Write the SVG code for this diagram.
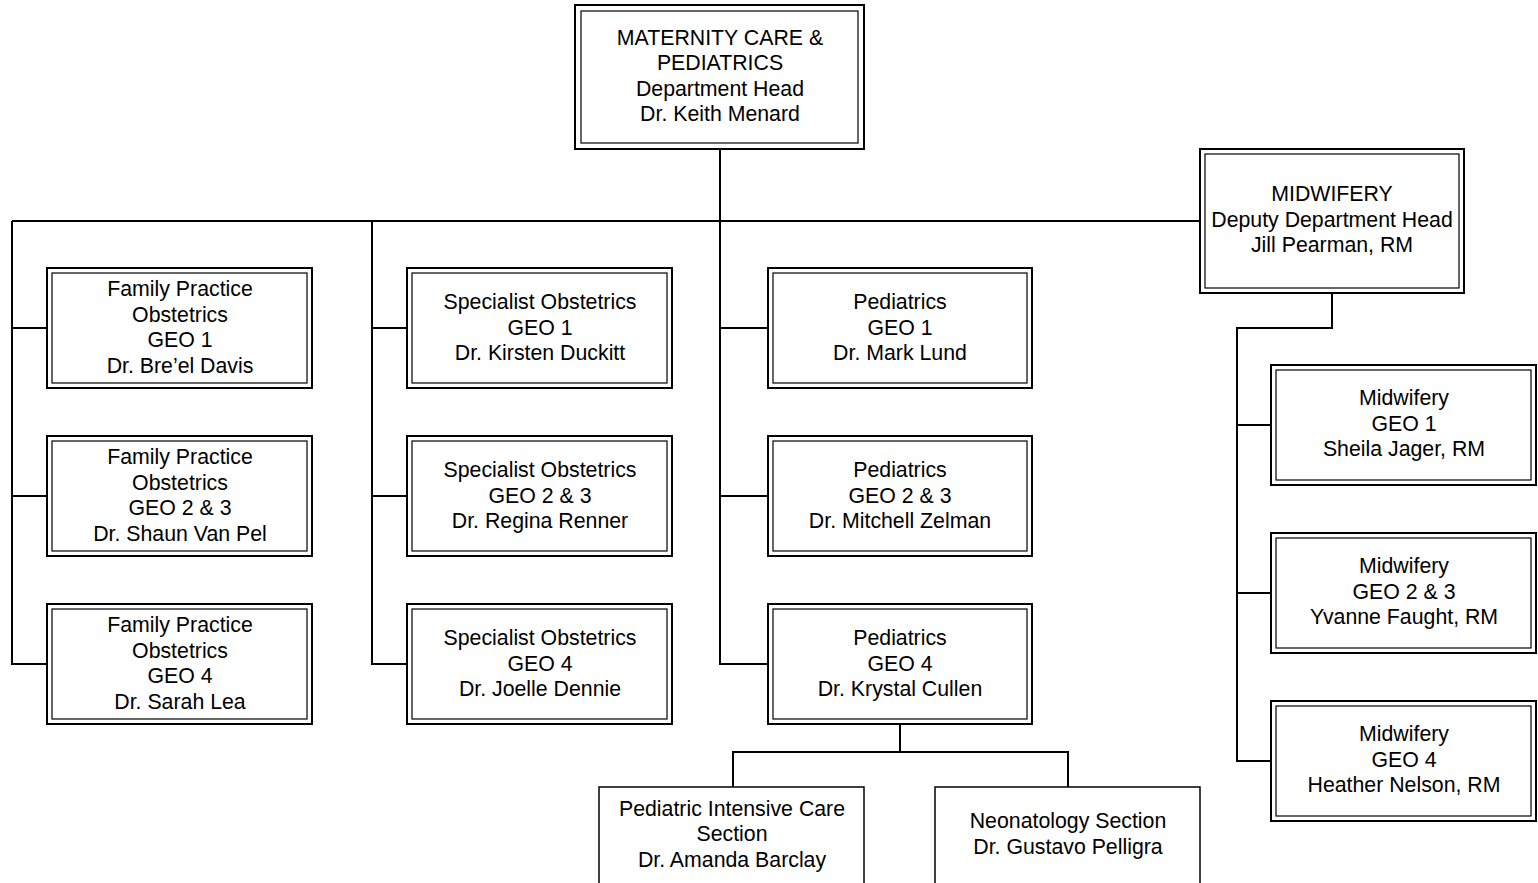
<svg xmlns="http://www.w3.org/2000/svg" width="1538" height="883" viewBox="0 0 1538 883">
<style>
.o{fill:#fff;stroke:#000;stroke-width:2}
.i{fill:none;stroke:#000;stroke-width:1.2}
.s{fill:#fff;stroke:#000;stroke-width:1.5}
.c{fill:none;stroke:#000;stroke-width:2}
text{font-family:"Liberation Sans",Arial,sans-serif;font-size:21.3px;fill:#000;text-anchor:middle}
</style>
<g id="connectors">
<path class="c" d="M720 149V665M12 221H1200M12 221V665M12 328H47M12 496H47M12 664H47M372 221V665M372 328H407M372 496H407M372 664H407M720 328H768M720 496H768M720 664H768"/>
<path class="c" d="M1332 293V328H1237V762M1237 425H1271M1237 593H1271M1237 761H1271"/>
<path class="c" d="M900 724V752H733V787M900 752H1068V787"/>
</g>
<g id="head">
<rect class="o" x="575" y="5" width="289" height="144"/><rect class="i" x="581" y="11" width="277" height="132"/>
<text x="720" y="45">MATERNITY CARE &amp;</text><text x="720" y="70">PEDIATRICS</text><text x="720" y="96">Department Head</text><text x="720" y="121">Dr. Keith Menard</text>
</g>
<g id="midwifery-head">
<rect class="o" x="1200" y="149" width="264" height="144"/><rect class="i" x="1205" y="154" width="254" height="134"/>
<text x="1332" y="201">MIDWIFERY</text><text x="1332" y="227">Deputy Department Head</text><text x="1332" y="252">Jill Pearman, RM</text>
</g>
<g id="fp1">
<rect class="o" x="47" y="268" width="265" height="120"/><rect class="i" x="52" y="273" width="255" height="110"/>
<text x="180" y="296">Family Practice</text><text x="180" y="322">Obstetrics</text><text x="180" y="347">GEO 1</text><text x="180" y="373">Dr. Bre’el Davis</text>
</g>
<g id="fp2">
<rect class="o" x="47" y="436" width="265" height="120"/><rect class="i" x="52" y="441" width="255" height="110"/>
<text x="180" y="464">Family Practice</text><text x="180" y="490">Obstetrics</text><text x="180" y="515">GEO 2 &amp; 3</text><text x="180" y="541">Dr. Shaun Van Pel</text>
</g>
<g id="fp3">
<rect class="o" x="47" y="604" width="265" height="120"/><rect class="i" x="52" y="609" width="255" height="110"/>
<text x="180" y="632">Family Practice</text><text x="180" y="658">Obstetrics</text><text x="180" y="683">GEO 4</text><text x="180" y="709">Dr. Sarah Lea</text>
</g>
<g id="so1">
<rect class="o" x="407" y="268" width="265" height="120"/><rect class="i" x="412" y="273" width="255" height="110"/>
<text x="540" y="309">Specialist Obstetrics</text><text x="540" y="335">GEO 1</text><text x="540" y="360">Dr. Kirsten Duckitt</text>
</g>
<g id="so2">
<rect class="o" x="407" y="436" width="265" height="120"/><rect class="i" x="412" y="441" width="255" height="110"/>
<text x="540" y="477">Specialist Obstetrics</text><text x="540" y="503">GEO 2 &amp; 3</text><text x="540" y="528">Dr. Regina Renner</text>
</g>
<g id="so3">
<rect class="o" x="407" y="604" width="265" height="120"/><rect class="i" x="412" y="609" width="255" height="110"/>
<text x="540" y="645">Specialist Obstetrics</text><text x="540" y="671">GEO 4</text><text x="540" y="696">Dr. Joelle Dennie</text>
</g>
<g id="pd1">
<rect class="o" x="768" y="268" width="264" height="120"/><rect class="i" x="773" y="273" width="254" height="110"/>
<text x="900" y="309">Pediatrics</text><text x="900" y="335">GEO 1</text><text x="900" y="360">Dr. Mark Lund</text>
</g>
<g id="pd2">
<rect class="o" x="768" y="436" width="264" height="120"/><rect class="i" x="773" y="441" width="254" height="110"/>
<text x="900" y="477">Pediatrics</text><text x="900" y="503">GEO 2 &amp; 3</text><text x="900" y="528">Dr. Mitchell Zelman</text>
</g>
<g id="pd3">
<rect class="o" x="768" y="604" width="264" height="120"/><rect class="i" x="773" y="609" width="254" height="110"/>
<text x="900" y="645">Pediatrics</text><text x="900" y="671">GEO 4</text><text x="900" y="696">Dr. Krystal Cullen</text>
</g>
<g id="mw1">
<rect class="o" x="1271" y="365" width="265" height="120"/><rect class="i" x="1276" y="370" width="255" height="110"/>
<text x="1404" y="405">Midwifery</text><text x="1404" y="431">GEO 1</text><text x="1404" y="456">Sheila Jager, RM</text>
</g>
<g id="mw2">
<rect class="o" x="1271" y="533" width="265" height="120"/><rect class="i" x="1276" y="538" width="255" height="110"/>
<text x="1404" y="573">Midwifery</text><text x="1404" y="599">GEO 2 &amp; 3</text><text x="1404" y="624">Yvanne Faught, RM</text>
</g>
<g id="mw3">
<rect class="o" x="1271" y="701" width="265" height="120"/><rect class="i" x="1276" y="706" width="255" height="110"/>
<text x="1404" y="741">Midwifery</text><text x="1404" y="767">GEO 4</text><text x="1404" y="792">Heather Nelson, RM</text>
</g>
<g id="picu">
<rect class="s" x="599" y="787" width="265" height="100"/>
<text x="732" y="816">Pediatric Intensive Care</text><text x="732" y="841">Section</text><text x="732" y="867">Dr. Amanda Barclay</text>
</g>
<g id="neo">
<rect class="s" x="935" y="787" width="265" height="100"/>
<text x="1068" y="828">Neonatology Section</text><text x="1068" y="854">Dr. Gustavo Pelligra</text>
</g>
</svg>
